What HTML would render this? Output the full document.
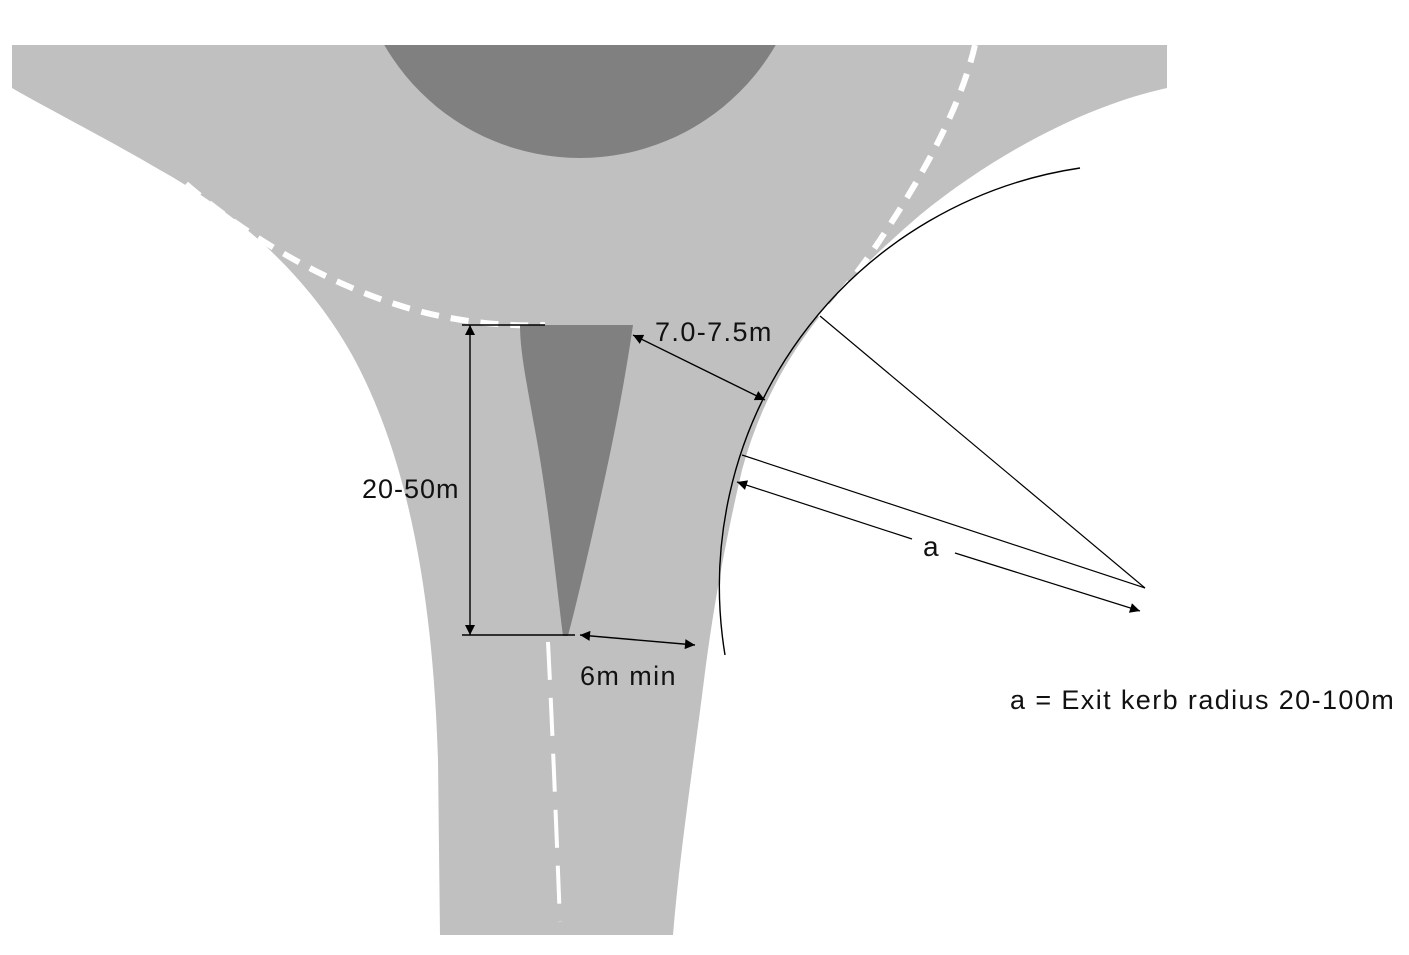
<!DOCTYPE html>
<html><head><style>body{margin:0;background:#fff}svg{display:block}text{font-family:"Liberation Sans",sans-serif;fill:#111;letter-spacing:1.4px}</style></head>
<body>
<svg width="1409" height="955" viewBox="0 0 1409 955" xmlns="http://www.w3.org/2000/svg">
<defs>
<marker id="ah" viewBox="0 0 10 10" refX="10" refY="5" markerWidth="14" markerHeight="10" markerUnits="userSpaceOnUse" orient="auto-start-reverse"><path d="M0,0 L10,5 L0,10 z" fill="#000"/></marker>
<clipPath id="cp"><rect x="0" y="45" width="1409" height="900"/></clipPath>
</defs>
<path d="M12,45 L1167,45 L1167,88 C1090,105 1000,150 920,215 C870,258 840,290 820,316 A423,423 0 0 0 742,470 C728,530 714,600 704,680 C694,760 680,850 673,935 L440,935 L438,760 C433,600 410,470 360,370 C320,290 250,220 160,170 C100,135 50,110 12,88 Z" fill="#c0c0c0"/>
<circle cx="580" cy="-68" r="226" fill="#808080" clip-path="url(#cp)"/>
<path d="M186,184 C250,240 350,300 450,318 C490,325 520,326 545,325" fill="none" stroke="#fff" stroke-width="6" stroke-dasharray="18,12"/>
<path d="M975,45 C960,110 920,180 880,240 C860,270 840,295 820,318" fill="none" stroke="#fff" stroke-width="6" stroke-dasharray="18,12"/>
<path d="M548,642 C552,720 556,820 560,922" fill="none" stroke="#fff" stroke-width="4" stroke-dasharray="38,18"/>
<path d="M520,325 L633,325 C628,360 618,420 600,500 C588,555 575,610 568,636 L563,636 C556,580 548,500 535,430 C526,380 520,350 520,325 Z" fill="#808080"/>
<path d="M1080,168 A423,423 0 0 0 725,655" fill="none" stroke="#000" stroke-width="1.4"/>
<line x1="820" y1="316" x2="1145" y2="588" stroke="#000" stroke-width="1.2"/>
<line x1="742" y1="455" x2="1145" y2="588" stroke="#000" stroke-width="1.2"/>
<line x1="737" y1="482" x2="912" y2="539" stroke="#000" stroke-width="1.2" marker-start="url(#ah)"/>
<line x1="955" y1="553" x2="1140" y2="611" stroke="#000" stroke-width="1.2" marker-end="url(#ah)"/>
<text x="923" y="556" font-size="28">a</text>
<line x1="633" y1="335" x2="765" y2="400" stroke="#000" stroke-width="1.4" marker-start="url(#ah)" marker-end="url(#ah)"/>
<text x="655" y="341" font-size="27">7.0-7.5m</text>
<line x1="462" y1="325" x2="545" y2="325" stroke="#000" stroke-width="1.4"/>
<line x1="462" y1="635" x2="575" y2="635" stroke="#000" stroke-width="1.4"/>
<line x1="470" y1="325" x2="470" y2="635" stroke="#000" stroke-width="1.4" marker-start="url(#ah)" marker-end="url(#ah)"/>
<text x="362" y="498" font-size="27" style="letter-spacing:1px">20-50m</text>
<line x1="580" y1="635" x2="695" y2="645" stroke="#000" stroke-width="1.4" marker-start="url(#ah)" marker-end="url(#ah)"/>
<text x="580" y="685" font-size="27">6m min</text>
<text x="1010" y="709" font-size="27">a = Exit kerb radius 20-100m</text>
</svg>
</body></html>
